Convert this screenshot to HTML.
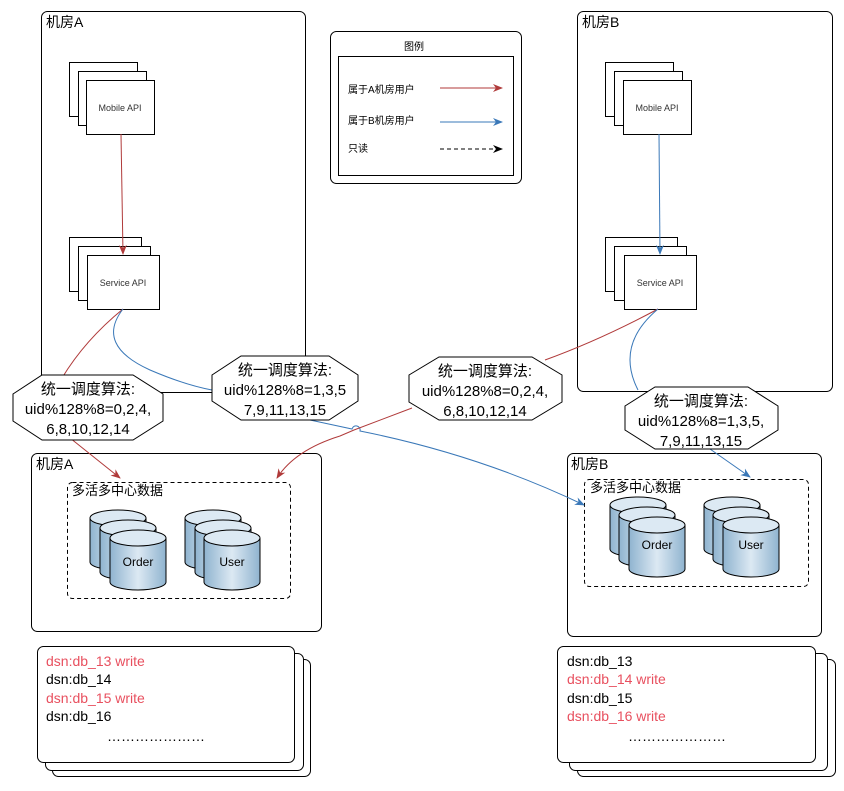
<!DOCTYPE html>
<html><head><meta charset="utf-8"><style>
html,body{margin:0;padding:0;background:#fff;}
svg{display:block;font-family:"Liberation Sans","Noto Sans CJK SC",sans-serif;}
</style></head><body>
<svg width="844" height="791" viewBox="0 0 844 791" xmlns="http://www.w3.org/2000/svg">
<defs>
<linearGradient id="cg" x1="0" x2="1" y1="0" y2="0">
<stop offset="0" stop-color="#8fb3cf"/><stop offset="0.5" stop-color="#dce9f3"/><stop offset="1" stop-color="#8fb3cf"/>
</linearGradient>
<marker id="ar" markerWidth="10" markerHeight="10" refX="9" refY="5" orient="auto" markerUnits="userSpaceOnUse"><path d="M0,1 L10,5 L0,9 L3,5 z" fill="#b03a3a"/></marker>
<marker id="ab" markerWidth="10" markerHeight="10" refX="9" refY="5" orient="auto" markerUnits="userSpaceOnUse"><path d="M0,1 L10,5 L0,9 L3,5 z" fill="#3a78b8"/></marker>
<marker id="ak" markerWidth="10" markerHeight="10" refX="9" refY="5" orient="auto" markerUnits="userSpaceOnUse"><path d="M0,1 L10,5 L0,9 L3,5 z" fill="#000"/></marker>
<g id="cyl">
<path d="M0,8 L0,52 A28,8 0 0 0 56,52 L56,8" fill="url(#cg)" stroke="#000" stroke-width="1"/>
<ellipse cx="28" cy="8" rx="28" ry="8" fill="#dce9f3" stroke="#000" stroke-width="1"/>
</g>
</defs>
<g fill="none" stroke="#000" stroke-width="1">
<!-- machine rooms top -->
<rect x="41.5" y="11.5" width="264" height="381" rx="6"/>
<rect x="577.5" y="11.5" width="255" height="380" rx="6"/>
<!-- legend -->
<rect x="330.5" y="31.5" width="191" height="152" rx="6"/>
<rect x="338.5" y="56.5" width="175" height="119"/>
</g>
<g fill="#fff" stroke="#000" stroke-width="1">
<rect x="69.5" y="62.5" width="68" height="54"/><rect x="78.5" y="71.5" width="68" height="54"/><rect x="86.5" y="80.5" width="68" height="54"/>
<rect x="69.5" y="237.5" width="72" height="54"/><rect x="78.5" y="246.5" width="72" height="54"/><rect x="87.5" y="255.5" width="72" height="54"/>
<rect x="605.5" y="62.5" width="68" height="54"/><rect x="614.5" y="71.5" width="68" height="54"/><rect x="623.5" y="80.5" width="68" height="54"/>
<rect x="605.5" y="237.5" width="72" height="54"/><rect x="614.5" y="246.5" width="72" height="54"/><rect x="624.5" y="255.5" width="72" height="54"/>
</g>
<g font-size="9" fill="#333" text-anchor="middle">
<text x="120" y="111">Mobile API</text><text x="123" y="286">Service API</text>
<text x="657" y="111">Mobile API</text><text x="660" y="286">Service API</text>
</g>
<g font-size="14" fill="#000"><text x="46" y="27">机房A</text><text x="582" y="27">机房B</text></g>
<!-- legend content -->
<g font-size="10" fill="#000">
<text x="414" y="50" text-anchor="middle">图例</text>
<text x="348" y="93">属于A机房用户</text>
<text x="348" y="124">属于B机房用户</text>
<text x="348" y="152">只读</text>
</g>
<line x1="440" y1="88" x2="502" y2="88" stroke="#b03a3a" marker-end="url(#ar)"/>
<line x1="440" y1="122" x2="502" y2="122" stroke="#3a78b8" marker-end="url(#ab)"/>
<line x1="440" y1="149" x2="502" y2="149" stroke="#000" stroke-dasharray="4,3" marker-end="url(#ak)"/>
<!-- data rooms -->
<g fill="none" stroke="#000" stroke-width="1">
<rect x="31.5" y="453.5" width="290" height="178" rx="6"/>
<rect x="67.5" y="482.5" width="223" height="116" rx="5" stroke-dasharray="4,3"/>
<rect x="567.5" y="453.5" width="254" height="183" rx="6"/>
<rect x="584.5" y="479.5" width="224" height="107" rx="5" stroke-dasharray="4,3"/>
</g>
<g font-size="14" fill="#000"><text x="36" y="469">机房A</text><text x="571" y="469">机房B</text></g>
<g font-size="13" fill="#000"><text x="72" y="495">多活多中心数据</text><text x="590" y="492">多活多中心数据</text></g>
<use href="#cyl" x="90" y="510"/><use href="#cyl" x="100" y="520"/><use href="#cyl" x="110" y="530"/>
<use href="#cyl" x="185" y="510"/><use href="#cyl" x="195" y="520"/><use href="#cyl" x="204" y="530"/>
<use href="#cyl" x="610" y="497"/><use href="#cyl" x="619" y="507"/><use href="#cyl" x="629" y="517"/>
<use href="#cyl" x="704" y="497"/><use href="#cyl" x="713" y="507"/><use href="#cyl" x="723" y="517"/>
<g font-size="12" fill="#000" text-anchor="middle">
<text x="138" y="566">Order</text><text x="232" y="566">User</text>
<text x="657" y="549">Order</text><text x="751" y="549">User</text>
</g>
<!-- connectors -->
<line x1="121" y1="134" x2="123" y2="254" stroke="#b03a3a" marker-end="url(#ar)"/>
<line x1="659" y1="134" x2="660" y2="254" stroke="#3a78b8" marker-end="url(#ab)"/>
<path d="M123,309 Q85,340 62,378" fill="none" stroke="#b03a3a"/>
<path d="M70,438 L120,478" fill="none" stroke="#b03a3a" marker-end="url(#ar)"/>
<path d="M123,309 Q95,345 150,370 Q185,385 212,390" fill="none" stroke="#3a78b8"/>
<path d="M310,420 L352,429 A4,4 0 0 1 360,431 Q480,455 584,505" fill="none" stroke="#3a78b8" marker-end="url(#ab)"/>
<path d="M658,309 Q600,340 545,360" fill="none" stroke="#b03a3a"/>
<path d="M412,408 L354,430 L340,436 Q295,450 277,478" fill="none" stroke="#b03a3a" marker-end="url(#ar)"/>
<path d="M658,309 Q615,345 638,390" fill="none" stroke="#3a78b8"/>
<path d="M710,449 L750,477" fill="none" stroke="#3a78b8" marker-end="url(#ab)"/>
<!-- octagons -->
<g fill="#fff" stroke="#000" stroke-width="1">
<polygon points="13,394 42,375 133,375 163,394 163,421 133,440 42,440 13,421"/>
<polygon points="212,375 241,356 329,356 358,375 358,401 329,420 241,420 212,401"/>
<polygon points="409,375 439,357 532,357 562,375 562,402 532,420 439,420 409,402"/>
<polygon points="625,406 655,387 748,387 778,406 778,430 748,449 655,449 625,430"/>
</g>
<g font-size="15" fill="#000" text-anchor="middle">
<text x="88" y="394">统一调度算法:</text><text x="88" y="414">uid%128%8=0,2,4,</text><text x="88" y="434">6,8,10,12,14</text>
<text x="285" y="375">统一调度算法:</text><text x="285" y="395">uid%128%8=1,3,5</text><text x="285" y="415">7,9,11,13,15</text>
<text x="485" y="376">统一调度算法:</text><text x="485" y="396">uid%128%8=0,2,4,</text><text x="485" y="416">6,8,10,12,14</text>
<text x="701" y="406">统一调度算法:</text><text x="701" y="426">uid%128%8=1,3,5,</text><text x="701" y="446">7,9,11,13,15</text>
</g>
<!-- dsn lists -->
<g fill="#fff" stroke="#000" stroke-width="1">
<rect x="52.5" y="659.5" width="258" height="117" rx="6"/>
<rect x="45.5" y="653.5" width="258" height="117" rx="6"/>
<rect x="37.5" y="646.5" width="257" height="116" rx="6"/>
<rect x="577.5" y="659.5" width="258" height="117" rx="6"/>
<rect x="569.5" y="653.5" width="258" height="117" rx="6"/>
<rect x="557.5" y="646.5" width="258" height="116" rx="6"/>
</g>
<g font-size="14">
<text x="46" y="666" fill="#e8505f">dsn:db_13 write</text>
<text x="46" y="684" fill="#000">dsn:db_14</text>
<text x="46" y="703" fill="#e8505f">dsn:db_15 write</text>
<text x="46" y="721" fill="#000">dsn:db_16</text>
<text x="107" y="741" fill="#000">…………………</text>
<text x="567" y="666" fill="#000">dsn:db_13</text>
<text x="567" y="684" fill="#e8505f">dsn:db_14 write</text>
<text x="567" y="703" fill="#000">dsn:db_15</text>
<text x="567" y="721" fill="#e8505f">dsn:db_16 write</text>
<text x="628" y="741" fill="#000">…………………</text>
</g>
</svg>
</body></html>
